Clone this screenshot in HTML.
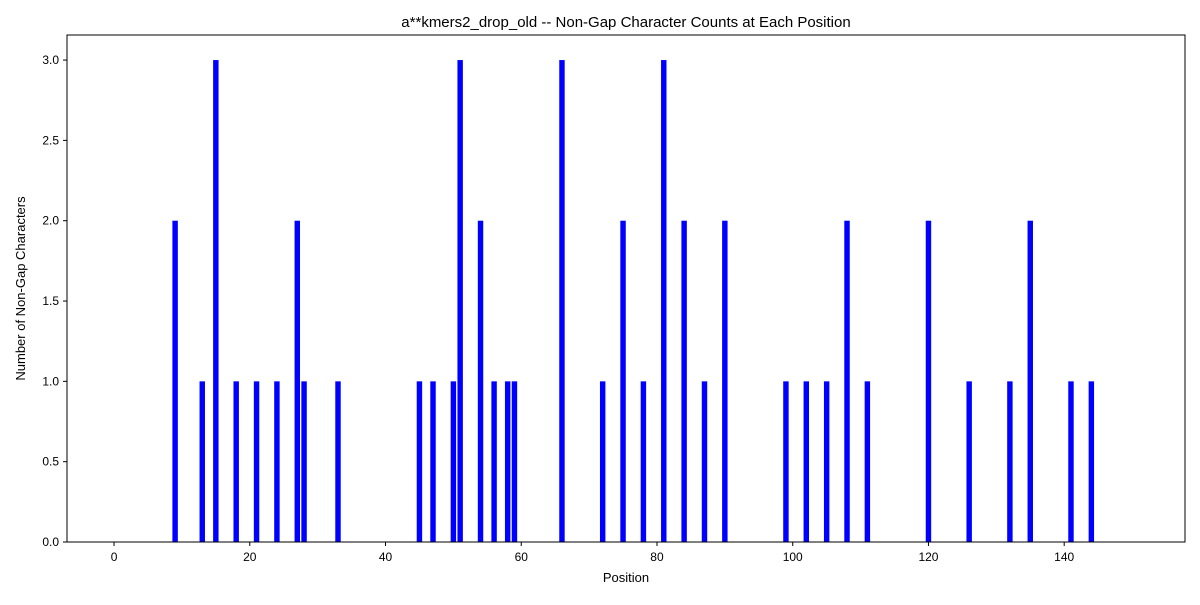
<!DOCTYPE html>
<html><head><meta charset="utf-8"><style>
body{margin:0;background:#fff;}
svg text{font-family:"Liberation Sans","DejaVu Sans",sans-serif;fill:#000;}
</style></head><body>
<svg id="chart" width="1200" height="600"></svg>
<script>
const positions=[9,13,15,18,21,24,27,28,33,45,47,50,51,54,56,58,59,66,72,75,78,81,84,87,90,99,102,105,108,111,120,126,132,135,141,144];
const counts=[2,1,3,1,1,1,2,1,1,1,1,1,3,2,1,1,1,3,1,2,1,3,2,1,2,1,1,1,2,1,2,1,1,2,1,1];
const xTicks=[0,20,40,60,80,100,120,140];
const yTicks=[0,0.5,1,1.5,2,2.5,3];
const yTickLabels=["0.0","0.5","1.0","1.5","2.0","2.5","3.0"];

const L=67,R=1185,T=35,B=542;
const xMin=-6.93,xMax=157.8,yMin=0,yMax=3.156;
const sx=v=>L+(v-xMin)/(xMax-xMin)*(R-L);
const sy=v=>B-(v-yMin)/(yMax-yMin)*(B-T);
const NS="http://www.w3.org/2000/svg";
const svg=document.getElementById('chart');
function mk(tag,attrs,parent){const e=document.createElementNS(NS,tag);for(const k in attrs)e.setAttribute(k,attrs[k]);(parent||svg).appendChild(e);return e;}

const bars=mk('g',{});


positions.forEach((p,i)=>{
  const r=mk('rect',{x:sx(p-0.4),y:sy(counts[i]),width:sx(p+0.4)-sx(p-0.4),height:sy(0)-sy(counts[i]),fill:'#0000ff'},bars);
  
  
});

const frame=mk('rect',{x:L,y:T,width:R-L,height:B-T,fill:'none',stroke:'#000','stroke-width':1});



xTicks.forEach(t=>{
  const x=sx(t);
  mk('line',{x1:x,x2:x,y1:B,y2:B+4,stroke:'#000'});
  const tx=mk('text',{x:x,y:B+19,'font-size':12,'text-anchor':'middle'});
  tx.textContent=t;
  
  
});
yTicks.forEach((t,i)=>{
  const y=sy(t);
  mk('line',{x1:L-4,x2:L,y1:y,y2:y,stroke:'#000'});
  const tx=mk('text',{x:L-8,y:y+4,'font-size':12,'text-anchor':'end'});
  tx.textContent=yTickLabels[i];
  
  
});

const xt=mk('text',{x:(L+R)/2,y:582,'font-size':13,'text-anchor':'middle'});
xt.textContent='Position';



const yt=mk('text',{x:0,y:0,'font-size':13,'text-anchor':'middle',transform:'translate(25,'+((T+B)/2)+') rotate(-90)'});
yt.textContent='Number of Non-Gap Characters';



const ti=mk('text',{x:(L+R)/2,y:27,'font-size':15,'text-anchor':'middle'});
ti.textContent='a**kmers2_drop_old -- Non-Gap Character Counts at Each Position';


</script>
</body></html>
